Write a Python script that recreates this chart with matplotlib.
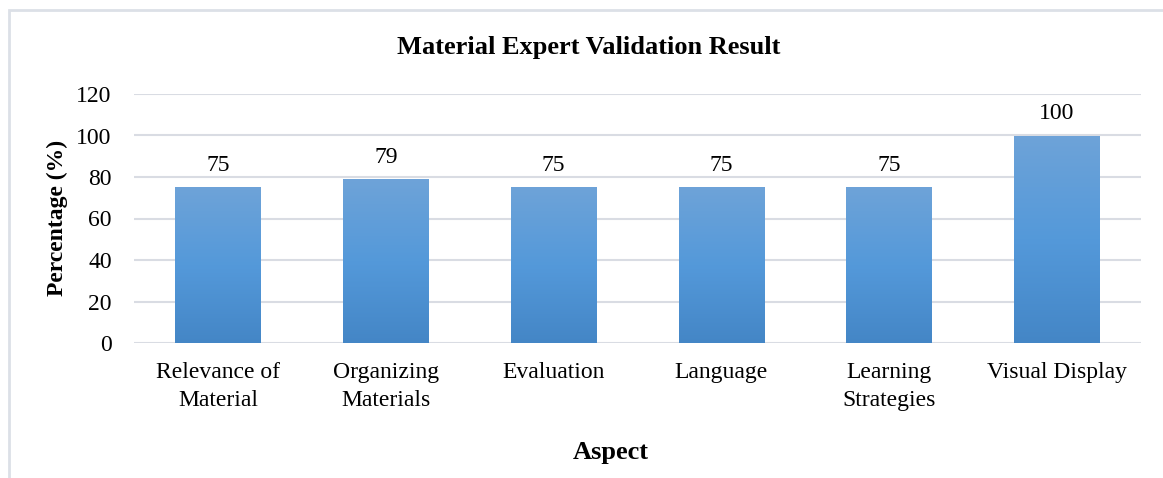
import numpy as np
import matplotlib.pyplot as plt
from matplotlib.colors import LinearSegmentedColormap
from matplotlib.patches import Rectangle

#data
aspects = ['Relevance of\nMaterial', 'Organizing\nMaterials', 'Evaluation',
           'Language', 'Learning\nStrategies', 'Visual Display']
percent = [75, 79, 75, 75, 75, 100]
yticks = [0, 20, 40, 60, 80, 100, 120]

plt.rcParams['font.family'] = ['Liberation Serif', 'DejaVu Serif']

W, H = 1163, 478
fig = plt.figure(figsize=(W/100, H/100), dpi=100)

# outer chart border (only top and left visible)
border = Rectangle((9/W, -0.1), 1.2, 1 - 10/H + 0.1, transform=fig.transFigure,
                   fill=False, edgecolor='#DCE0E7', lw=2)
fig.patches.append(border)

ax = fig.add_axes([134/W, 1 - 343/H, (1141-134)/W, (343-94)/H])
x = np.arange(len(aspects))
bars = ax.bar(x, percent, width=0.51, color='none', zorder=3)

# vertical gradient fill for each bar
grad = LinearSegmentedColormap.from_list('g', ['#4486C6', '#5499DA', '#6EA3D8'])
g = np.linspace(0, 1, 256).reshape(-1, 1)
for b in bars:
    x0, w, h = b.get_x(), b.get_width(), b.get_height()
    im = ax.imshow(g, cmap=grad, origin='lower', aspect='auto',
                   extent=[x0, x0 + w, 0, h], zorder=3)
    im.set_clip_path(b)
    ax.text(x0 + w/2, h + 5.5, str(h), ha='center', va='bottom', fontsize=17, zorder=4)

ax.set_xlim(-0.5, len(aspects) - 0.5)
ax.set_ylim(0, 120)
ax.set_yticks(yticks)
ax.set_xticks(x)
ax.set_xticklabels(aspects, fontsize=17, linespacing=1.38)
ax.tick_params(axis='y', labelsize=17, length=0, pad=16)
ax.tick_params(axis='x', length=0, pad=14)
ax.grid(axis='y', color='#D9DCE3', lw=1.5, zorder=0)
for s in ax.spines.values():
    s.set_visible(False)

fig.text(589/W, 1 - 47/H, 'Material Expert Validation Result', ha='center', va='center',
         fontsize=19, fontweight='bold')
fig.text(611/W, 1 - 452/H, 'Aspect', ha='center', va='center', fontsize=19, fontweight='bold')
fig.text(57/W, 1 - 218/H, 'Percentage (%)', ha='center', va='center', rotation=90,
         fontsize=17, fontweight='bold')

fig.savefig('out.png', dpi=100)
